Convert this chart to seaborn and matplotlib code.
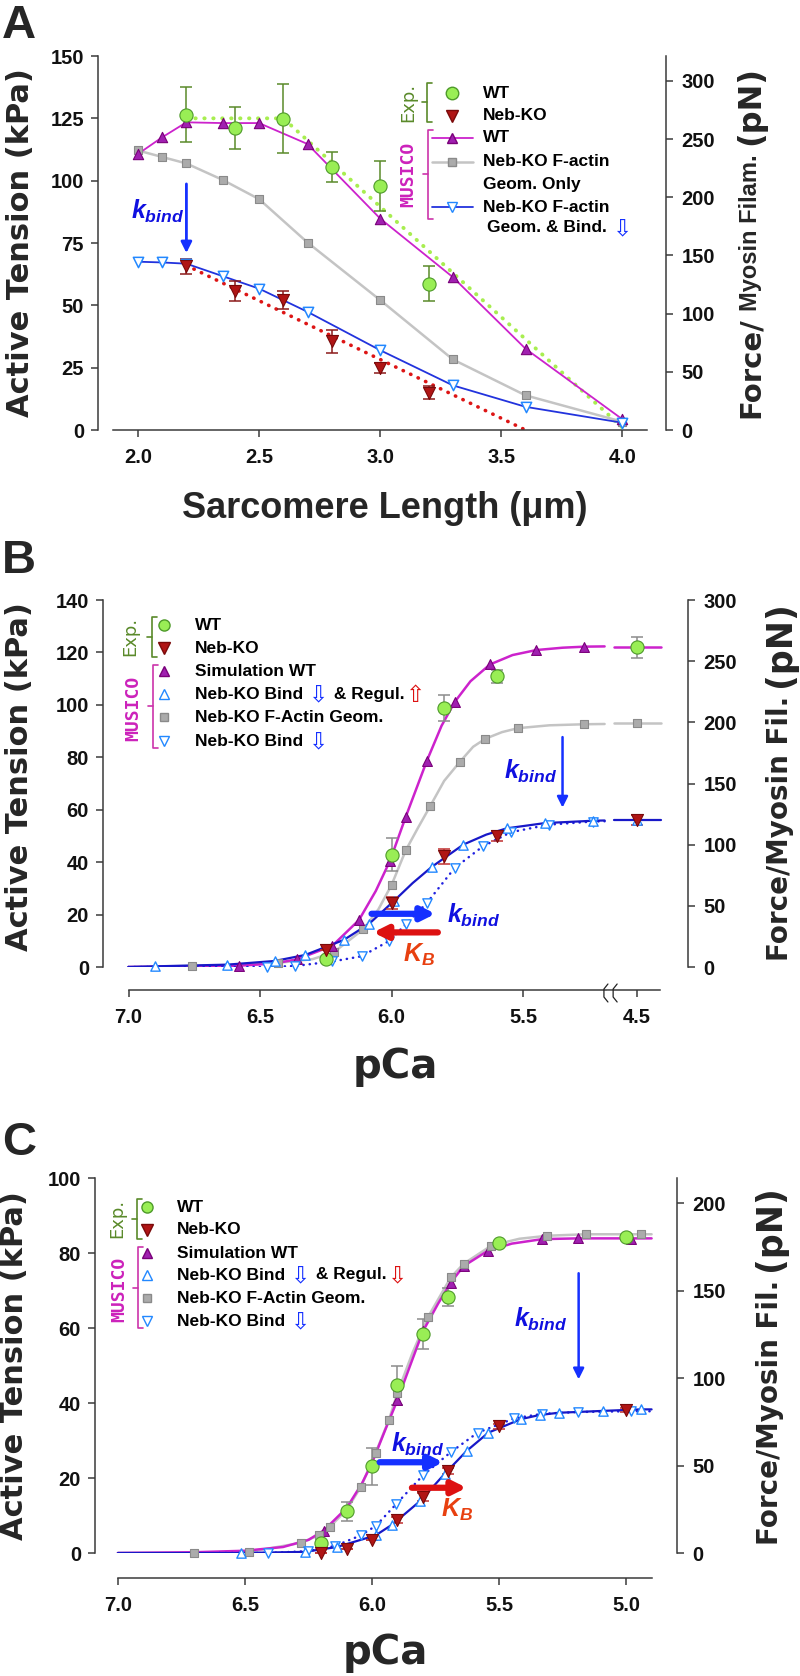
import numpy as np
import seaborn as sns
import matplotlib.pyplot as plt
from matplotlib.lines import Line2D

# ---------------- data ----------------
PN_PER_KPA = 2.143  # right axis: force per myosin filament

# Panel A: tension vs sarcomere length
sl_exp = [2.2, 2.4, 2.6, 2.8, 3.0, 3.2]
wt_exp_a = [126.5, 121.0, 124.9, 105.6, 98.0, 58.6]
wt_err_a = [11.0, 8.5, 14.0, 6.0, 10.0, 7.0]
ko_exp_a = [65.7, 55.7, 52.1, 35.6, 24.8, 15.0]
ko_err_a = [3.0, 4.0, 3.5, 4.6, 2.0, 2.5]
sl_sim = [2.0, 2.1, 2.2, 2.35, 2.5, 2.7, 3.0, 3.3, 3.6, 4.0]
wt_sim_a = [110.7, 117.4, 123.4, 123.1, 123.1, 114.7, 84.8, 61.3, 32.6, 4.3]
geom_sim_a = [112.1, 109.5, 106.9, 100.3, 92.6, 75.2, 52.1, 28.3, 13.9, 3.3]
bind_sim_a = [67.5, 67.2, 66.7, 61.7, 56.7, 47.4, 32.0, 17.9, 9.3, 2.9]
wt_fit_sl = [2.2, 2.6, 4.0]
wt_fit_a = [125.0, 125.0, 1.0]
ko_fit_sl = [2.2, 3.6]
ko_fit_a = [66.0, 0.0]

# Panel B: tension vs pCa (4.5 drawn after an axis break)
pca_exp_b = [6.25, 6.0, 5.8, 5.6, 4.5]
wt_exp_b = [2.9, 42.9, 98.8, 110.9, 121.9]
wt_err_b = [0.0, 6.3, 5.0, 2.5, 4.0]
ko_exp_b = [6.3, 24.4, 42.2, 50.1, 56.0]
ko_err_b = [0.0, 2.4, 2.8, 1.9, 2.0]
pca_wt_b = [6.58, 6.36, 6.225, 6.124, 6.006, 5.946, 5.866, 5.76, 5.626, 5.45, 5.267, 4.5]
wt_sim_b = [0.5, 2.9, 8.1, 17.9, 40.5, 57.3, 78.6, 101.1, 115.4, 120.9, 122.2, 122.4]
pca_geom_b = [6.758, 6.43, 6.22, 6.107, 6.0, 5.946, 5.853, 5.74, 5.643, 5.52, 5.267, 4.5]
geom_sim_b = [0.4, 1.6, 5.6, 14.4, 31.3, 44.5, 61.4, 78.3, 87.1, 91.1, 92.6, 92.9]
pca_br_b = [6.9, 6.624, 6.444, 6.328, 6.182, 6.085, 5.992, 5.847, 5.727, 5.562, 5.417, 5.233, 4.5]
br_sim_b = [0.25, 0.9, 2.3, 4.6, 10.3, 16.5, 25.1, 38.2, 46.7, 52.9, 54.9, 55.8, 56.0]
pca_bind_b = [6.473, 6.366, 6.225, 6.114, 6.008, 5.946, 5.866, 5.76, 5.653, 5.547, 5.403, 5.233]
bind_sim_b = [0.0, 0.4, 2.1, 4.1, 10.0, 16.3, 24.4, 37.8, 46.0, 51.4, 54.3, 55.5]
# fitted curves (before the break)
wt_curve_p = [7.0, 6.7, 6.58, 6.45, 6.36, 6.225, 6.124, 6.06, 6.006, 5.946, 5.866, 5.81, 5.76,
              5.7, 5.626, 5.54, 5.45, 5.35, 5.267, 5.19]
wt_curve_b = [0, 0.2, 0.5, 1.3, 2.9, 8.1, 17.9, 29, 40.5, 57.3, 78.6, 92, 101.1,
              109, 115.4, 119, 120.9, 121.8, 122.2, 122.3]
geom_curve_p = [7.0, 6.758, 6.6, 6.43, 6.3, 6.22, 6.107, 6.05, 6.0, 5.946, 5.9, 5.853, 5.8,
                5.74, 5.69, 5.643, 5.58, 5.52, 5.4, 5.267, 5.19]
geom_curve_b = [0, 0.4, 0.8, 1.6, 3, 5.6, 14.4, 22, 31.3, 44.5, 53, 61.4, 71,
                78.3, 84, 87.1, 89.6, 91.1, 92.2, 92.6, 92.7]
br_curve_p = [7.0, 6.9, 6.624, 6.444, 6.328, 6.182, 6.085, 5.992, 5.92, 5.847, 5.727, 5.64,
              5.562, 5.417, 5.233, 5.19]
br_curve_b = [0, 0.25, 0.9, 2.3, 4.6, 10.3, 16.5, 25.1, 32, 38.2, 46.7, 50.5,
              52.9, 54.9, 55.8, 55.9]
bind_curve_p = [7.0, 6.473, 6.366, 6.225, 6.114, 6.008, 5.946, 5.866, 5.76, 5.653, 5.547,
                5.403, 5.233, 5.19]
bind_curve_b = [0, 0, 0.4, 2.1, 4.1, 10, 16.3, 24.4, 37.8, 46, 51.4, 54.3, 55.5, 55.6]
plateau_b = {'wt': 122.0, 'geom': 92.9, 'br': 56.0}

# Panel C: tension vs pCa
pca_exp_c = [6.2, 6.1, 6.0, 5.9, 5.8, 5.7, 5.5, 5.0]
wt_exp_c = [2.7, 11.1, 23.1, 44.7, 58.5, 68.4, 82.6, 84.2]
wt_err_c = [0.0, 2.6, 5.0, 5.3, 4.0, 2.4, 0.6, 0.6]
ko_exp_c = [0.0, 1.1, 3.6, 8.9, 14.9, 21.8, 33.8, 38.1]
ko_err_c = [0.0, 0.0, 0.0, 0.8, 1.0, 0.8, 0.6, 0.5]
pca_wt_c = [6.19, 5.9, 5.8, 5.69, 5.64, 5.544, 5.33, 5.19, 4.98]
wt_sim_c = [6.0, 40.8, 59.1, 72.1, 76.5, 80.6, 83.7, 83.9, 83.7]
pca_geom_c = [6.7, 6.484, 6.28, 6.21, 6.167, 6.044, 5.986, 5.934, 5.9, 5.78, 5.69, 5.64,
              5.53, 5.31, 5.16, 4.94]
geom_sim_c = [0.0, 0.3, 2.7, 4.7, 6.9, 17.6, 26.7, 35.4, 42.7, 62.9, 73.5, 77.1,
              82.0, 84.6, 85.0, 85.0]
pca_br_c = [6.516, 6.265, 6.138, 5.986, 5.92, 5.81, 5.713, 5.628, 5.542, 5.414, 5.341,
            5.265, 5.09, 4.942]
br_sim_c = [0.0, 0.3, 1.6, 4.7, 7.6, 13.9, 21.2, 27.2, 32.1, 35.7, 36.8, 37.4, 37.9, 38.3]
pca_bind_c = [6.41, 6.25, 6.145, 6.044, 5.984, 5.904, 5.8, 5.69, 5.584, 5.44, 5.333, 5.19, 4.98]
bind_sim_c = [0.0, 0.5, 1.9, 4.7, 7.3, 13.1, 20.7, 26.9, 32.1, 35.9, 37.1, 37.6, 37.8]
wt_curve_cp = [7.0, 6.7, 6.5, 6.35, 6.25, 6.19, 6.1, 6.04, 6.0, 5.95, 5.9, 5.85, 5.8, 5.74,
               5.69, 5.64, 5.544, 5.45, 5.33, 5.19, 4.98, 4.9]
wt_curve_c = [0, 0.2, 0.6, 1.6, 3.5, 6.0, 12.0, 18.5, 24.0, 32.5, 40.8, 50.0, 59.1, 66.5,
              72.1, 76.5, 80.6, 82.5, 83.7, 83.9, 83.9, 83.9]
geom_curve_cp = [7.0, 6.7, 6.484, 6.28, 6.21, 6.167, 6.1, 6.044, 5.986, 5.934, 5.9, 5.84,
                 5.78, 5.69, 5.64, 5.53, 5.42, 5.31, 5.16, 4.94, 4.9]
geom_curve_c = [0, 0, 0.3, 2.7, 4.7, 6.9, 11.5, 17.6, 26.7, 35.4, 42.7, 53.5,
                62.9, 73.5, 77.1, 82.0, 83.8, 84.6, 85.0, 85.0, 85.0]
br_curve_cp = [7.0] + pca_br_c + [4.9]
br_curve_c = [0.0] + br_sim_c + [38.3]
bind_curve_cp = [6.6] + pca_bind_c + [4.9]
bind_curve_c = [0.0] + bind_sim_c + [37.8]

# ---------------- style ----------------
sns.set_theme(style="ticks")
plt.rcParams['font.family'] = ['Liberation Sans', 'DejaVu Sans']
plt.rcParams['mathtext.fontset'] = 'custom'
plt.rcParams['mathtext.it'] = 'Liberation Sans:bold:italic'
plt.rcParams['mathtext.rm'] = 'Liberation Sans:bold'

W, H = 800, 1676
fig = plt.figure(figsize=(8, 16.76), dpi=100)
renderer = fig.canvas.get_renderer()

TICKFONT = ['Liberation Sans', 'DejaVu Sans']
TICKSIZE = 14.5
AXC = '#3a3a3a'
C_WT = '#99EE55'; C_WTE = '#4E9A2A'
C_KO = '#B01515'; C_KOE = '#7A0A0A'
C_MAG = '#CC22CC'; C_TRI = '#A020B0'
C_GRAY = '#C4C4C4'; C_SQ = '#ABABAB'
C_BLUE = '#1818C8'; C_OPEN = '#2288FF'
all_axes = []


def ax_at(l, r, t, b):
    return fig.add_axes([l / W, 1 - b / H, (r - l) / W, (b - t) / H])


def style_axes(ax, ymax, ystep, xlim, xticks, xlabels, xbounds, offset):
    ax.set_xlim(*xlim)
    ax.set_ylim(0, ymax)
    yt = np.arange(0, ymax + 0.1, ystep)
    ax.set_yticks(yt)
    ax.set_yticklabels([f"{v:g}" for v in yt])
    ax.set_xticks(xticks)
    ax.set_xticklabels(xlabels)
    for s in ['top', 'right']:
        ax.spines[s].set_visible(False)
    for s in ['left', 'bottom']:
        ax.spines[s].set_color(AXC)
        ax.spines[s].set_linewidth(1.1)
    ax.spines['left'].set_bounds(0, ymax)
    ax.spines['bottom'].set_position(('outward', offset))
    ax.spines['bottom'].set_bounds(*xbounds)
    ax.tick_params(direction='out', length=5, width=1.1, color=AXC, pad=5)
    ax.tick_params(axis='x', pad=8)
    tw = ax.twinx()
    tw.set_ylim(0, ymax * PN_PER_KPA)
    rt = np.arange(0, ymax * PN_PER_KPA, 50)
    tw.set_yticks(rt)
    tw.set_yticklabels([f"{v:g}" for v in rt])
    for s in ['top', 'left', 'bottom']:
        tw.spines[s].set_visible(False)
    tw.spines['right'].set_color(AXC)
    tw.spines['right'].set_linewidth(1.1)
    tw.tick_params(direction='out', length=5, width=1.1, color=AXC, pad=6)
    all_axes.extend([ax, tw])
    return tw


def finish_ticks():
    for a in all_axes:
        a.set_xlabel('')
        a.set_ylabel('')
        for lab in a.get_xticklabels() + a.get_yticklabels():
            lab.set_fontfamily(TICKFONT)
            lab.set_fontweight('bold')
            lab.set_fontsize(TICKSIZE)
            lab.set_color('#111111')


def line(ax, x, y, color, lw, ls='-', z=2):
    sns.lineplot(x=np.asarray(x, float), y=np.asarray(y, float), ax=ax, color=color, lw=lw,
                 linestyle=ls, sort=False, estimator=None, zorder=z, dash_capstyle='round')


def pts(ax, x, y, marker, fc, ec, s, lw=0.8, z=4):
    sns.scatterplot(x=np.asarray(x, float), y=np.asarray(y, float), ax=ax, marker=marker,
                    color=fc, edgecolor=ec, s=s, linewidth=lw, zorder=z, clip_on=False)


def errs(ax, x, y, e, color):
    ax.errorbar(x, y, yerr=e, fmt='none', ecolor=color, elinewidth=1.1, capsize=4,
                capthick=1.1, zorder=3)


def kbind(ax, x, y, sym='k', sub='bind', color='#1010E0', size=18, ha='center'):
    ax.text(x, y, r'$\mathit{%s}_{\mathit{%s}}$' % (sym, sub), color=color, fontsize=size,
            ha=ha, va='center', zorder=6)


def arrow(ax, x0, y0, x1, y1, color, lw, ms):
    ax.annotate('', xy=(x1, y1), xytext=(x0, y0),
                arrowprops=dict(arrowstyle='-|>', color=color, lw=lw, mutation_scale=ms,
                                shrinkA=0, shrinkB=0), zorder=6)


def ftxt(x, y, s, **kw):
    return fig.text(x / W, 1 - y / H, s, **kw)


def fmark(x, y, **kw):
    fig.add_artist(Line2D([x / W], [1 - y / H], transform=fig.transFigure, ls='none', **kw))


def fline(xs, ys, **kw):
    fig.add_artist(Line2D([v / W for v in xs], [1 - v / H for v in ys],
                          transform=fig.transFigure, **kw))


def bracket(x, y0, y1, color):
    fline([x + 5, x, x, x + 5], [y0, y0, y1, y1], color=color, lw=1.2)
    ym = (y0 + y1) / 2
    fline([x, x - 5], [ym, ym], color=color, lw=1.2)


def rich(x, y, pieces, size=12.5):
    # pieces: (text, colour) ; arrow glyphs drawn a bit larger
    for s, c in pieces:
        big = s in ('\u21e9', '\u21e7')
        t = ftxt(x, y + (1 if big else 0), s, color=c, fontsize=size + 4 if big else size,
                 fontweight='normal' if big else 'bold', va='center', ha='left',
                 family=['DejaVu Sans'] if big else ['Liberation Sans', 'DejaVu Sans'])
        x += t.get_window_extent(renderer).width + (2 if big else 0)


def vstack(x, yc, pieces, gaps):
    # pieces drawn bottom to top as rotated text
    items = []
    for s, size, fam in pieces:
        t = ftxt(x, 0, s, fontsize=size, fontweight='bold', family=fam, rotation=90,
                 ha='center', va='bottom')
        items.append(t)
    hs = [t.get_window_extent(renderer).height for t in items]
    total = sum(hs) + sum(gaps)
    yb = yc + total / 2
    for t, h, g in zip(items, hs, gaps + [0]):
        t.set_position((x / W, 1 - yb / H))
        yb -= h + g


def legend_rows(xb, ys, xm, xt, exp_x, mus_x, arrow2):
    # ys: row centres of the six legend rows
    bracket(xb, ys[0] - 8, ys[1] + 9, '#5A8A2A')
    ftxt(exp_x, (ys[0] + ys[1]) / 2, 'Exp.', rotation=90, color='#5A8A2A', fontsize=13,
         ha='center', va='center', family='DejaVu Sans')
    bracket(xb + 1, ys[2] - 6, ys[5] + 7, '#CC33AA')
    ftxt(mus_x, (ys[2] + ys[5]) / 2 + 2, 'MUSICO', rotation=90, color='#CC22BB', fontsize=13,
         fontweight='bold', ha='center', va='center', family='DejaVu Sans Mono')
    fmark(xm, ys[0], marker='o', ms=8, mfc=C_WT, mec=C_WTE)
    fmark(xm, ys[1], marker='v', ms=8, mfc=C_KO, mec=C_KOE)
    fmark(xm, ys[2], marker='^', ms=6.5, mfc=C_TRI, mec='#7A007A')
    fmark(xm, ys[3], marker='^', ms=6.5, mfc='white', mec=C_OPEN)
    fmark(xm, ys[4], marker='s', ms=5.5, mfc=C_SQ, mec='#8A8A8A')
    fmark(xm, ys[5], marker='v', ms=6.5, mfc='white', mec=C_OPEN)
    rich(xt, ys[0], [('WT', 'black')])
    rich(xt, ys[1], [('Neb-KO', 'black')])
    rich(xt, ys[2], [('Simulation WT', 'black')])
    rich(xt, ys[3], [('Neb-KO Bind ', 'black'), ('\u21e9', '#1530FF'), (' & Regul.', 'black'),
                     (arrow2, '#DD1111')])
    rich(xt, ys[4], [('Neb-KO F-Actin Geom.', 'black')])
    rich(xt, ys[5], [('Neb-KO Bind ', 'black'), ('\u21e9', '#1530FF')])


LAB = ['DejaVu Sans']
NAR = ['Liberation Sans']

# ---------------- Panel A ----------------
axA = ax_at(98, 666, 56, 430)
style_axes(axA, 150, 25, (1.835, 4.18), [2.0, 2.5, 3.0, 3.5, 4.0],
           ['2.0', '2.5', '3.0', '3.5', '4.0'], (1.897, 4.10), 0)
line(axA, wt_fit_sl, wt_fit_a, '#A8EE50', 2.8, ls=(0, (0.1, 2.2)), z=1)
line(axA, ko_fit_sl, ko_fit_a, '#DD1515', 2.6, ls=(0, (0.1, 2.2)), z=1)
line(axA, sl_sim, geom_sim_a, C_GRAY, 1.8)
line(axA, sl_sim, wt_sim_a, C_MAG, 1.3)
line(axA, sl_sim, bind_sim_a, '#2233DD', 1.3)
pts(axA, sl_sim, geom_sim_a, 's', C_SQ, '#8A8A8A', 36)
pts(axA, sl_sim, wt_sim_a, '^', C_TRI, '#7A007A', 55)
pts(axA, sl_sim, bind_sim_a, 'v', 'white', C_OPEN, 55, lw=1.1)
errs(axA, sl_exp, wt_exp_a, wt_err_a, '#5A8A2A')
errs(axA, sl_exp, ko_exp_a, ko_err_a, '#8B1A1A')
pts(axA, sl_exp, wt_exp_a, 'o', C_WT, C_WTE, 90, z=5)
pts(axA, sl_exp, ko_exp_a, 'v', C_KO, C_KOE, 75, z=5)
arrow(axA, 2.2, 98.7, 2.2, 71.0, '#1530FF', 2.0, 16)
kbind(axA, 2.08, 87.5)

# legend A
bracket(427, 83, 122, '#5A8A2A')
ftxt(408, 102, 'Exp.', rotation=90, color='#5A8A2A', fontsize=13, ha='center', va='center',
     family='DejaVu Sans')
fmark(452, 93, marker='o', ms=9, mfc=C_WT, mec=C_WTE)
fmark(452, 116, marker='v', ms=9, mfc=C_KO, mec=C_KOE)
rich(483, 93, [('WT', 'black')])
rich(483, 116, [('Neb-KO', 'black')])
bracket(428, 130, 219, '#CC33AA')
ftxt(408, 174, 'MUSICO', rotation=90, color='#CC22BB', fontsize=13, fontweight='bold',
     ha='center', va='center', family='DejaVu Sans Mono')
fline([432, 473], [138, 138], color=C_MAG, lw=1.3)
fmark(452, 138, marker='^', ms=7, mfc=C_TRI, mec='#7A007A')
fline([432, 473], [162, 162], color=C_GRAY, lw=1.8)
fmark(452, 162, marker='s', ms=5.5, mfc=C_SQ, mec='#8A8A8A')
fline([432, 473], [207, 207], color='#2233DD', lw=1.3)
fmark(452, 207, marker='v', ms=7, mfc='white', mec=C_OPEN)
rich(483, 138, [('WT', 'black')])
rich(483, 162, [('Neb-KO F-actin', 'black')])
rich(483, 184, [('Geom. Only', 'black')])
rich(483, 207, [('Neb-KO F-actin', 'black')])
rich(487, 228, [('Geom. & Bind. ', 'black'), ('\u21e9', '#1530FF')])

ftxt(2, 38, 'A', fontsize=34, fontweight='bold', ha='left', va='baseline', family=NAR)
ftxt(21, 243, 'Active Tension (kPa)', rotation=90, fontsize=22, fontweight='bold',
     ha='center', va='center', family=LAB)
ftxt(385, 508, 'Sarcomere Length (\u03bcm)', fontsize=26, fontweight='bold',
     ha='center', va='center', family=NAR)
vstack(751, 242, [('Force/', 21, LAB), ('Myosin Filam.', 17, NAR), ('(pN)', 23, LAB)], [6, 10])

# ---------------- Panel B ----------------
B_BREAK = 5.067          # axis position used for pCa 4.5
B_TAIL = [5.154, 4.975]  # line segment after the break


def bx(p):
    p = np.asarray(p, float)
    return np.where(p < 4.8, B_BREAK, p)


axB = ax_at(103, 688, 600, 967)
style_axes(axB, 140, 20, (7.097, 4.873), [7.0, 6.5, 6.0, 5.5, B_BREAK],
           ['7.0', '6.5', '6.0', '5.5', '4.5'], (7.0, 4.979), 16.5)
line(axB, geom_curve_p, geom_curve_b, C_GRAY, 1.8)
line(axB, B_TAIL, [plateau_b['geom']] * 2, C_GRAY, 1.8)
line(axB, wt_curve_p, wt_curve_b, C_MAG, 1.8)
line(axB, B_TAIL, [plateau_b['wt']] * 2, C_MAG, 1.8)
line(axB, bind_curve_p, bind_curve_b, '#2020E0', 1.8, ls=(0, (0.1, 2.4)))
line(axB, br_curve_p, br_curve_b, C_BLUE, 1.6)
line(axB, B_TAIL, [plateau_b['br']] * 2, C_BLUE, 1.6)
pts(axB, bx(pca_geom_b), geom_sim_b, 's', C_SQ, '#8A8A8A', 40)
pts(axB, bx(pca_wt_b), wt_sim_b, '^', C_TRI, '#7A007A', 50)
pts(axB, bx(pca_bind_b), bind_sim_b, 'v', 'white', C_OPEN, 45, lw=1.0)
pts(axB, bx(pca_br_b), br_sim_b, '^', 'white', C_OPEN, 45, lw=1.0)
errs(axB, bx(pca_exp_b), wt_exp_b, wt_err_b, '#8C8C8C')
errs(axB, bx(pca_exp_b), ko_exp_b, ko_err_b, '#C03030')
pts(axB, bx(pca_exp_b), wt_exp_b, 'o', C_WT, C_WTE, 90, z=5)
pts(axB, bx(pca_exp_b), ko_exp_b, 'v', C_KO, C_KOE, 75, z=5)
arrow(axB, 5.35, 87.7, 5.35, 60.8, '#1530FF', 1.8, 16)
kbind(axB, 5.47, 74.5)
arrow(axB, 6.076, 20.3, 5.833, 20.3, '#1530FF', 4.5, 20)
kbind(axB, 5.79, 19.5, ha='left')
arrow(axB, 5.824, 13.2, 6.07, 13.2, '#DD1111', 4.5, 20)
kbind(axB, 5.895, 4.8, sym='K', sub='B', color='#E84010')

legend_rows(152, [625, 648, 671, 694, 717, 741], 164, 195, 130, 133, '\u21e7')

ftxt(2, 573, 'B', fontsize=34, fontweight='bold', ha='left', va='baseline', family=NAR)
ftxt(20, 777, 'Active Tension (kPa)', rotation=90, fontsize=22, fontweight='bold',
     ha='center', va='center', family=LAB)
ftxt(395, 1067, 'pCa', fontsize=29, fontweight='bold', ha='center', va='center', family=LAB)
vstack(780, 781, [('Force/Myosin Fil.', 20, LAB), ('(pN)', 25, LAB)], [9])

# ---------------- Panel C ----------------
axC = ax_at(95, 677, 1178, 1553)
style_axes(axC, 100, 20, (7.09, 4.80), [7.0, 6.5, 6.0, 5.5, 5.0],
           ['7.0', '6.5', '6.0', '5.5', '5.0'], (7.0, 4.898), 18)
line(axC, geom_curve_cp, geom_curve_c, C_GRAY, 1.8)
line(axC, wt_curve_cp, wt_curve_c, C_MAG, 1.8)
line(axC, bind_curve_cp, bind_curve_c, '#2020E0', 1.8, ls=(0, (0.1, 2.4)))
line(axC, br_curve_cp, br_curve_c, C_BLUE, 1.6)
pts(axC, pca_wt_c, wt_sim_c, '^', C_TRI, '#7A007A', 50)
pts(axC, pca_geom_c, geom_sim_c, 's', C_SQ, '#8A8A8A', 40)
pts(axC, pca_bind_c, bind_sim_c, 'v', 'white', C_OPEN, 45, lw=1.0)
pts(axC, pca_br_c, br_sim_c, '^', 'white', C_OPEN, 45, lw=1.0)
errs(axC, pca_exp_c, wt_exp_c, wt_err_c, '#8C8C8C')
errs(axC, pca_exp_c, ko_exp_c, ko_err_c, '#C03030')
pts(axC, pca_exp_c, wt_exp_c, 'o', C_WT, C_WTE, 90, z=5)
pts(axC, pca_exp_c, ko_exp_c, 'v', C_KO, C_KOE, 75, z=5)
arrow(axC, 5.187, 74.6, 5.187, 46.3, '#1530FF', 1.8, 16)
kbind(axC, 5.337, 62.4)
arrow(axC, 5.97, 24.2, 5.72, 24.2, '#1530FF', 4.5, 20)
kbind(axC, 5.82, 29.0)
arrow(axC, 5.843, 17.4, 5.628, 17.4, '#DD1111', 4.5, 20)
kbind(axC, 5.665, 11.4, sym='K', sub='B', color='#E84010')

legend_rows(137, [1207, 1230, 1253, 1275, 1298, 1321], 147, 177, 117, 119, '\u21e9')

ftxt(2, 1155, 'C', fontsize=34, fontweight='bold', ha='left', va='baseline', family=NAR)
ftxt(15, 1366, 'Active Tension (kPa)', rotation=90, fontsize=22, fontweight='bold',
     ha='center', va='center', family=LAB)
ftxt(385, 1653, 'pCa', fontsize=29, fontweight='bold', ha='center', va='center', family=LAB)
vstack(770, 1365, [('Force/Myosin Fil.', 20, LAB), ('(pN)', 25, LAB)], [9])

finish_ticks()

# axis break marks on the pCa axis of panel B
fig.canvas.draw()
ybrk = 993
gx0 = axB.transData.transform((5.185, 0))[0]
gx1 = axB.transData.transform((5.15, 0))[0]
fline([gx0 + 1, gx1 - 1], [ybrk, ybrk], color='white', lw=3, zorder=10)
for gx in (gx0, gx1):
    fline([gx + 2, gx - 2, gx - 2, gx + 2], [ybrk - 9, ybrk - 4, ybrk + 4, ybrk + 9],
          color='#222222', lw=0.9, zorder=11)

fig.savefig('out.png', dpi=100)
